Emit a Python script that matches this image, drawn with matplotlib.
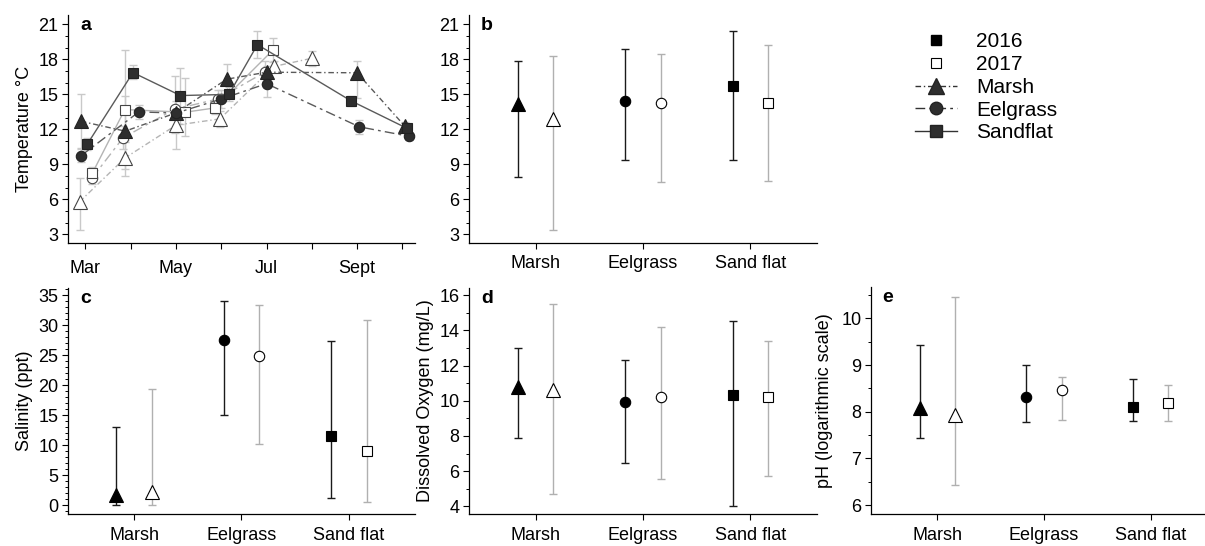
import numpy as np
import matplotlib.pyplot as plt
from matplotlib.lines import Line2D
from matplotlib.ticker import MultipleLocator

plt.rcParams['font.family'] = ['Liberation Sans', 'DejaVu Sans']
plt.rcParams['axes.linewidth'] = 0.9

# ---- panel a: monthly temperature (month number, value, lower/upper bar) ----
month_ticks = [3, 4, 5, 6, 7, 8, 9, 10]
month_labels = ['Mar', '', 'May', '', 'Jul', '', 'Sept', '']

marsh16_x = [2.90, 3.88, 4.99, 6.12, 7.00, 9.00, 10.05]
marsh16_y = [12.7, 11.85, 13.4, 16.3, 16.9, 16.85, 12.3]
marsh16_lo = [10.4, 10.9, 12.9, 15.0, 16.4, 14.7, 12.0]
marsh16_hi = [15.0, 14.9, 13.9, 17.6, 17.4, 17.9, 12.6]

marsh17_x = [2.87, 3.88, 5.00, 5.97, 7.17, 8.01]
marsh17_y = [5.8, 9.57, 12.36, 12.9, 17.4, 18.1]
marsh17_lo = [3.4, 8.0, 10.3, 12.2, 16.9, 17.4]
marsh17_hi = [7.8, 11.1, 14.4, 13.6, 17.9, 18.7]

eel16_x = [2.90, 4.18, 5.00, 6.00, 7.00, 9.05, 10.14]
eel16_y = [9.74, 13.5, 13.4, 14.6, 15.92, 12.22, 11.42]
eel16_lo = [9.2, 12.9, 12.9, 13.8, 14.8, 11.6, 11.1]
eel16_hi = [10.3, 14.1, 13.9, 15.4, 17.0, 12.8, 11.7]

eel17_x = [3.15, 3.83, 4.97, 5.92, 6.97]
eel17_y = [7.85, 11.28, 13.73, 14.6, 16.92]
eel17_lo = [7.3, 10.3, 11.7, 13.8, 15.9]
eel17_hi = [8.4, 12.3, 16.6, 15.4, 17.9]

sand16_x = [3.04, 4.05, 5.10, 6.17, 6.80, 8.87, 10.10]
sand16_y = [10.73, 16.87, 14.9, 15.0, 19.26, 14.44, 12.1]
sand16_lo = [10.2, 16.3, 12.5, 14.4, 18.1, 14.0, 11.8]
sand16_hi = [11.3, 17.5, 17.3, 15.6, 20.4, 14.9, 12.4]

sand17_x = [3.15, 3.87, 5.20, 5.86, 7.15]
sand17_y = [8.23, 13.7, 13.47, 13.84, 18.83]
sand17_lo = [7.7, 8.6, 11.4, 13.3, 17.8]
sand17_hi = [8.8, 18.8, 16.4, 14.4, 19.8]

# ---- panels b-e: site means with ranges ----
sites = ['Marsh', 'Eelgrass', 'Sand flat']
site_markers = ['^', 'o', 's']

temp_16 = [14.2, 14.4, 15.75]
temp_16_lo = [7.9, 9.4, 9.4]
temp_16_hi = [17.85, 18.85, 20.4]
temp_17 = [12.9, 14.25, 14.3]
temp_17_lo = [3.4, 7.5, 7.55]
temp_17_hi = [18.3, 18.45, 19.2]

sal_16 = [1.7, 27.5, 11.6]
sal_16_lo = [0.0, 15.0, 1.3]
sal_16_hi = [13.0, 34.0, 27.3]
sal_17 = [2.3, 24.8, 9.0]
sal_17_lo = [0.1, 10.3, 0.6]
sal_17_hi = [19.3, 33.3, 30.9]

do_16 = [10.8, 9.9, 10.3]
do_16_lo = [7.9, 6.45, 4.05]
do_16_hi = [13.0, 12.3, 14.55]
do_17 = [10.6, 10.2, 10.2]
do_17_lo = [4.7, 5.55, 5.7]
do_17_hi = [15.5, 14.2, 13.4]

ph_16 = [8.08, 8.31, 8.10]
ph_16_lo = [7.44, 7.78, 7.81]
ph_16_hi = [9.42, 9.0, 8.70]
ph_17 = [7.93, 8.47, 8.18]
ph_17_lo = [6.44, 7.83, 7.80]
ph_17_hi = [10.45, 8.74, 8.57]

W, H = 1205, 546
fig = plt.figure(figsize=(W / 100, H / 100), dpi=100)
FS = 13


def px_axes(left, top, right, bottom):
    return fig.add_axes([left / W, 1 - bottom / H, (right - left) / W, (bottom - top) / H])


def style(ax, letter, xpad=5):
    for s in ['top', 'right']:
        ax.spines[s].set_visible(False)
    ax.tick_params(which='major', direction='out', length=4, width=0.8, labelsize=FS, pad=3)
    ax.tick_params(which='minor', direction='out', length=2.2, width=0.7)
    ax.tick_params(axis='x', pad=xpad)
    ax.text(0.035, 0.99, letter, transform=ax.transAxes, fontsize=14,
            fontweight='bold', va='top', ha='left')


ax_a = px_axes(68, 15, 415, 243)
ax_b = px_axes(469, 15, 817, 243)
ax_c = px_axes(68, 288, 415, 514)
ax_d = px_axes(469, 288, 817, 514)
ax_e = px_axes(871, 287, 1204, 514)

# panel a
err_col = '#c9c9c9'
dark_line = '#5a5a5a'
light_line = '#b4b4b4'
marsh_ls = (0, (4, 2, 1, 2))
eel_ls = (0, (7, 3, 2, 3))

series = [
    (marsh16_x, marsh16_y, marsh16_lo, marsh16_hi, '^', marsh_ls, True),
    (marsh17_x, marsh17_y, marsh17_lo, marsh17_hi, '^', marsh_ls, False),
    (eel16_x, eel16_y, eel16_lo, eel16_hi, 'o', eel_ls, True),
    (eel17_x, eel17_y, eel17_lo, eel17_hi, 'o', eel_ls, False),
    (sand16_x, sand16_y, sand16_lo, sand16_hi, 's', '-', True),
    (sand17_x, sand17_y, sand17_lo, sand17_hi, 's', '-', False),
]
for x, y, lo, hi, mk, ls, filled in series:
    y = np.array(y)
    yerr = [y - np.array(lo), np.array(hi) - y]
    ax_a.errorbar(x, y, yerr=yerr, fmt='none', ecolor=err_col, elinewidth=1.0,
                  capsize=3.2, capthick=1.0, zorder=1)
for x, y, lo, hi, mk, ls, filled in series:
    size = {'^': 10, 'o': 7.5, 's': 6.5}[mk]
    ax_a.plot(x, y, linestyle=ls, color=dark_line if filled else light_line, lw=1.0,
              marker=mk, markersize=size,
              markerfacecolor='#2e2e2e' if filled else 'white',
              markeredgecolor='#222222' if filled else '#444444',
              markeredgewidth=0.8, zorder=3 if filled else 2)

ax_a.set_xlim(2.615, 10.28)
ax_a.set_ylim(2.27, 21.8)
ax_a.set_xticks(month_ticks)
ax_a.set_xticklabels(month_labels)
ax_a.set_yticks(np.arange(3, 22, 3))
ax_a.yaxis.set_minor_locator(MultipleLocator(1))
ax_a.set_ylabel('Temperature °C', fontsize=FS, labelpad=4)
style(ax_a, 'a', xpad=8)


def site_panel(ax, m16, lo16, hi16, m17, lo17, hi17, letter):
    off = 0.165
    xs = np.arange(1, len(sites) + 1)
    for i in range(len(sites)):
        for x, m, lo, hi, filled in [(xs[i] - off, m16[i], lo16[i], hi16[i], True),
                                     (xs[i] + off, m17[i], lo17[i], hi17[i], False)]:
            ecol = '#1a1a1a' if filled else '#b0b0b0'
            ax.errorbar([x], [m], yerr=[[m - lo], [hi - m]], fmt='none', ecolor=ecol,
                        elinewidth=1.0, capsize=3.2, capthick=1.0, zorder=1)
            mk = site_markers[i]
            size = {'^': 9.5, 'o': 7.5, 's': 6.5}[mk]
            ax.plot([x], [m], linestyle='none', marker=mk, markersize=size,
                    markerfacecolor='black' if filled else 'white',
                    markeredgecolor='black', markeredgewidth=0.8, zorder=3)
    ax.set_xticks(xs)
    ax.set_xticklabels(sites)
    style(ax, letter)


site_panel(ax_b, temp_16, temp_16_lo, temp_16_hi, temp_17, temp_17_lo, temp_17_hi, 'b')
ax_b.set_xlim(0.378, 3.622)
ax_b.set_ylim(2.27, 21.8)
ax_b.set_yticks(np.arange(3, 22, 3))
ax_b.yaxis.set_minor_locator(MultipleLocator(1))

site_panel(ax_c, sal_16, sal_16_lo, sal_16_hi, sal_17, sal_17_lo, sal_17_hi, 'c')
ax_c.set_xlim(0.385, 3.615)
ax_c.set_ylim(-1.43, 36.2)
ax_c.set_yticks(np.arange(0, 36, 5))
ax_c.yaxis.set_minor_locator(MultipleLocator(1))
ax_c.set_ylabel('Salinity (ppt)', fontsize=FS, labelpad=4)

site_panel(ax_d, do_16, do_16_lo, do_16_hi, do_17, do_17_lo, do_17_hi, 'd')
ax_d.set_xlim(0.378, 3.622)
ax_d.set_ylim(3.57, 16.4)
ax_d.set_yticks(np.arange(4, 17, 2))
ax_d.yaxis.set_minor_locator(MultipleLocator(1))
ax_d.set_ylabel('Dissolved Oxygen (mg/L)', fontsize=FS, labelpad=4)

site_panel(ax_e, ph_16, ph_16_lo, ph_16_hi, ph_17, ph_17_lo, ph_17_hi, 'e')
ax_e.set_xlim(0.38, 3.5)
ax_e.set_ylim(5.81, 10.67)
ax_e.set_yticks(np.arange(6, 11, 1))
ax_e.yaxis.set_minor_locator(MultipleLocator(0.5))
ax_e.set_ylabel('pH (logarithmic scale)', fontsize=FS, labelpad=6)

# legend
handles = [
    Line2D([], [], linestyle='none', marker='s', markersize=7, markerfacecolor='black',
           markeredgecolor='black'),
    Line2D([], [], linestyle='none', marker='s', markersize=7, markerfacecolor='white',
           markeredgecolor='black', markeredgewidth=0.8),
    Line2D([], [], linestyle=marsh_ls, color='#333333', lw=1.0, marker='^', markersize=11,
           markerfacecolor='#2e2e2e', markeredgecolor='#222222'),
    Line2D([], [], linestyle=eel_ls, color='#333333', lw=1.0, marker='o', markersize=9,
           markerfacecolor='#2e2e2e', markeredgecolor='#222222'),
    Line2D([], [], linestyle='-', color='#333333', lw=1.0, marker='s', markersize=8,
           markerfacecolor='#2e2e2e', markeredgecolor='#222222'),
]
fig.legend(handles, ['2016', '2017', 'Marsh', 'Eelgrass', 'Sandflat'],
           loc='upper left', bbox_to_anchor=(905 / W, 1 - 22 / H), frameon=False,
           fontsize=15, handlelength=2.0, handletextpad=0.9, labelspacing=0.18,
           borderpad=0)

fig.savefig('out.png', dpi=100)
